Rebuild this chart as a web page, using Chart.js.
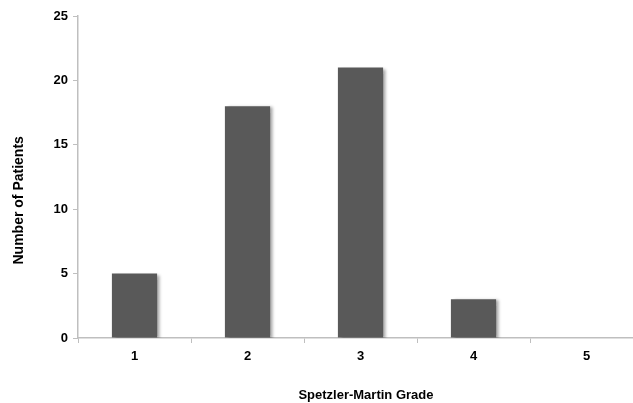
<!DOCTYPE html>
<html>
<head>
<meta charset="utf-8">
<script src="https://cdn.jsdelivr.net/npm/chart.js@4"></script>
<style>
  body { margin: 0; background: #fff; }
  #wrap { width: 633px; height: 403px; }
</style>
</head>
<body>
<div id="wrap"><canvas id="chart"></canvas></div>
<script>
const grades = ["1", "2", "3", "4", "5"];
const patients = [5, 18, 21, 3, 0];
const yTicks = [0, 5, 10, 15, 20, 25];

const axisColor = "#bfbfbf";
const labelFont = { family: "Arial, 'Liberation Sans', sans-serif", size: 13, weight: "bold" };

// soft shadow under the bars, like the original
const barShadow = {
  id: "barShadow",
  beforeDatasetsDraw(chart) {
    const ctx = chart.ctx;
    ctx.save();
    ctx.shadowColor = "rgba(0,0,0,0.35)";
    ctx.shadowOffsetX = 3;
    ctx.shadowOffsetY = 1;
    ctx.shadowBlur = 3;
  },
  afterDatasetsDraw(chart) {
    chart.ctx.restore();
  }
};

// the original plot runs about 10px past the right edge of the picture
const overhang = {
  id: "overhang",
  afterLayout(chart) {
    const x = chart.scales.x;
    x.right = chart.width + 10;
    x.width = x.right - x.left;
    x.configure();
  }
};

new Chart(document.getElementById("chart"), {
  type: "bar",
  data: {
    labels: grades,
    datasets: [{
      data: patients,
      backgroundColor: "#595959",
      borderWidth: 0,
      categoryPercentage: 1,
      barPercentage: 0.4
    }]
  },
  plugins: [barShadow, overhang],
  options: {
    responsive: true,
    maintainAspectRatio: false,
    animation: false,
    layout: { padding: { top: 16, right: 1, left: 0, bottom: 0 } },
    plugins: { legend: { display: false }, tooltip: { enabled: false } },
    scales: {
      x: {
        afterFit(scale) { scale.height = 65; },
        grid: { offset: true, drawOnChartArea: false, color: axisColor, tickLength: 5 },
        border: { color: axisColor, width: 1.5 },
        ticks: { color: "#000", font: labelFont, padding: 6 },
        title: {
          display: true,
          text: "   Spetzler-Martin Grade",
          color: "#000",
          font: labelFont,
          padding: { top: 0, bottom: 0 }
        }
      },
      y: {
        min: 0,
        max: 25,
        afterFit(scale) { scale.width = 78; },
        afterBuildTicks(scale) { scale.ticks = yTicks.map(v => ({ value: v })); },
        grid: { drawOnChartArea: false, color: axisColor, tickLength: 5 },
        border: { color: axisColor, width: 1.5 },
        ticks: { color: "#000", font: labelFont, padding: 5 },
        title: {
          display: true,
          text: "Number of Patients            ",
          color: "#000",
          font: { ...labelFont, size: 14 },
          padding: { top: 11, bottom: 11 }
        }
      }
    }
  }
});
</script>
</body>
</html>
